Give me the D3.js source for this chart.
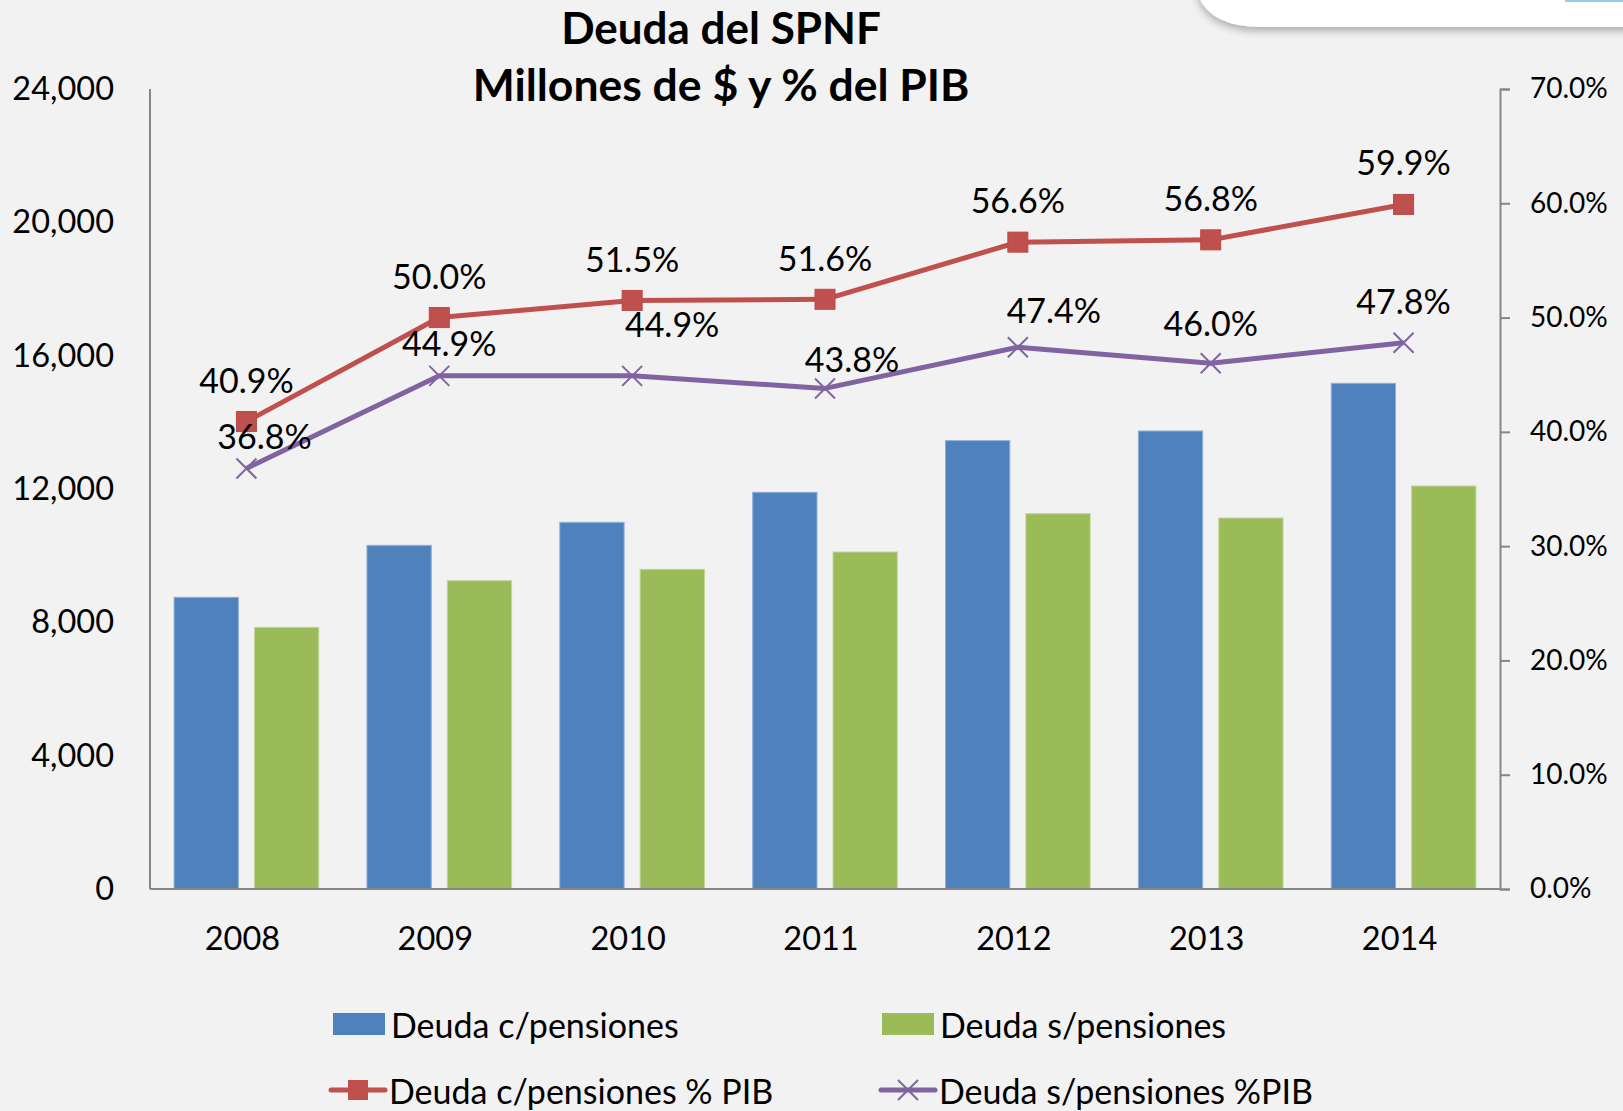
<!DOCTYPE html>
<html><head><meta charset="utf-8">
<script src="https://cdn.jsdelivr.net/npm/d3@7"></script>
<style>
html,body{margin:0;padding:0;background:#f2f2f2;}
svg{display:block;font-family:Lato,"Open Sans",sans-serif;}
</style></head>
<body>
<svg id="chart" width="1623" height="1111"></svg>
<script>
// ---- data ----
const years = ["2008","2009","2010","2011","2012","2013","2014"];
const deudaCon = [8750, 10310, 11000, 11900, 13450, 13740, 15170];
const deudaSin = [7850, 9250, 9590, 10110, 11260, 11130, 12090];
const pctCon = [0.409, 0.500, 0.515, 0.516, 0.566, 0.568, 0.599];
const pctSin = [0.368, 0.449, 0.449, 0.438, 0.474, 0.460, 0.478];
const leftTicks = [0, 4000, 8000, 12000, 16000, 20000, 24000];
const rightTicks = [0, 0.1, 0.2, 0.3, 0.4, 0.5, 0.6, 0.7];
const titleLines = ["Deuda del SPNF", "Millones de $ y % del PIB"];
const seriesNames = ["Deuda c/pensiones", "Deuda s/pensiones", "Deuda c/pensiones % PIB", "Deuda s/pensiones %PIB"];
// label offsets (manual placement as in the original)
const labelOffCon = [[0,-42],[0,-42],[0,-42],[0,-42],[0,-43],[0,-42],[0,-43]];
const labelOffSin = [[18,-33],[10,-33],[40,-52],[27,-30],[36,-38],[0,-41],[0,-42]];

const C = {blue:"#4f81bd", green:"#9bbb59", red:"#c0504d", purple:"#8064a2", axis:"#868686"};

const svg = d3.select("#chart");
const L = 150, R = 1500, T = 89, B = 889;

// background decoration top-right
const defs = svg.append("defs");
const f = defs.append("filter").attr("id","sh").attr("x","-20%").attr("y","-50%").attr("width","140%").attr("height","250%");
f.append("feGaussianBlur").attr("in","SourceAlpha").attr("stdDeviation",4);
f.append("feOffset").attr("dx",0).attr("dy",4).attr("result","b");
f.append("feComponentTransfer").append("feFuncA").attr("type","linear").attr("slope",0.3);
const fm = f.append("feMerge"); fm.append("feMergeNode"); fm.append("feMergeNode").attr("in","SourceGraphic");
svg.append("path")
  .attr("d","M1198,-10 L1198,-5 Q1210,27 1262,27 L1640,27 L1640,-10 Z")
  .attr("fill","#ffffff").attr("filter","url(#sh)");
svg.append("rect").attr("x",1565).attr("y",0).attr("width",58).attr("height",2).attr("fill","#9ccbea");

// scales
const x = d3.scaleBand().domain(years).range([L, R]).paddingInner(0).paddingOuter(0);
const x1 = d3.scaleBand().domain(["c","s"]).range([0, x.bandwidth()]).paddingInner(0.2).paddingOuter(0.3);
const yL = d3.scaleLinear().domain([0, 24000]).range([B, T]);
const yR = d3.scaleLinear().domain([0, 0.7]).range([B, T]);

// bars
const g = svg.append("g");
g.selectAll("rect.c").data(deudaCon).join("rect").attr("class","c")
  .attr("x",(d,i)=>x(years[i])+x1("c")).attr("y",d=>yL(d))
  .attr("width",x1.bandwidth()).attr("height",d=>B-yL(d))
  .attr("fill",C.blue).attr("stroke","#8eaedb").attr("stroke-width",1);
g.selectAll("rect.s").data(deudaSin).join("rect").attr("class","s")
  .attr("x",(d,i)=>x(years[i])+x1("s")).attr("y",d=>yL(d))
  .attr("width",x1.bandwidth()).attr("height",d=>B-yL(d))
  .attr("fill",C.green).attr("stroke","#c0d69a").attr("stroke-width",1);

// axes
const axL = svg.append("g").attr("transform",`translate(${L},0)`)
  .call(d3.axisLeft(yL).tickValues(leftTicks).tickFormat(d3.format(",")).tickSize(0).tickPadding(36));
const axR = svg.append("g").attr("transform",`translate(${R},0)`)
  .call(d3.axisRight(yR).tickValues(rightTicks).tickFormat(d3.format(".1%")).tickSize(10).tickPadding(20));
const axB = svg.append("g").attr("transform",`translate(0,${B})`)
  .call(d3.axisBottom(x).tickSize(0).tickPadding(38));
[axL,axR,axB].forEach(a=>{
  a.select(".domain").attr("stroke",C.axis).attr("stroke-width",2);
  a.selectAll(".tick line").attr("stroke",C.axis).attr("stroke-width",2);
  a.selectAll("text").attr("fill","#000").style("font-family","Lato");
});
axL.selectAll("text").style("font-size","32.5px");
axR.selectAll("text").style("font-size","28px");
axB.selectAll("text").style("font-size","32.5px").attr("dx",-4);
axL.select(".domain").attr("d",`M0,${T}V${B}`);
axB.select(".domain").attr("d",`M${L},0H${R}`);

// lines
const cx = i => x(years[i]) + x.bandwidth()/2;
const lineCon = d3.line().x((d,i)=>cx(i)).y(d=>yR(d));
svg.append("path").datum(pctCon).attr("d",lineCon).attr("fill","none")
  .attr("stroke",C.red).attr("stroke-width",5).attr("stroke-linejoin","round");
svg.append("path").datum(pctSin).attr("d",lineCon).attr("fill","none")
  .attr("stroke",C.purple).attr("stroke-width",5).attr("stroke-linejoin","round");
svg.selectAll("rect.mk").data(pctCon).join("rect").attr("class","mk")
  .attr("x",(d,i)=>cx(i)-10).attr("y",d=>yR(d)-10).attr("width",20).attr("height",20)
  .attr("fill",C.red).attr("stroke","#b94a47").attr("stroke-width",1);
svg.selectAll("path.xm").data(pctSin).join("path").attr("class","xm")
  .attr("d",(d,i)=>{const px=cx(i),py=yR(d),s=10;return `M${px-s},${py-s}L${px+s},${py+s}M${px-s},${py+s}L${px+s},${py-s}`;})
  .attr("stroke",C.purple).attr("stroke-width",2).attr("fill","none");

// data labels
const fmtP = d3.format(".1%");
svg.selectAll("text.lc").data(pctCon).join("text").attr("class","lc")
  .attr("x",(d,i)=>cx(i)+labelOffCon[i][0]).attr("y",(d,i)=>yR(d)+labelOffCon[i][1])
  .attr("text-anchor","middle").attr("dominant-baseline","central")
  .style("font-size","34px").text(d=>fmtP(d));
svg.selectAll("text.ls").data(pctSin).join("text").attr("class","ls")
  .attr("x",(d,i)=>cx(i)+labelOffSin[i][0]).attr("y",(d,i)=>yR(d)+labelOffSin[i][1])
  .attr("text-anchor","middle").attr("dominant-baseline","central")
  .style("font-size","34px").text(d=>fmtP(d));

// title
svg.append("text").attr("x",721).attr("y",44).attr("text-anchor","middle")
  .style("font-size","44px").style("font-weight","bold").text(titleLines[0]);
svg.append("text").attr("x",721).attr("y",101).attr("text-anchor","middle")
  .style("font-size","44.5px").style("font-weight","bold").text(titleLines[1]);

// legend
const lg = svg.append("g");
const items = [
  {x:333, y:1024, type:"bar", color:C.blue, name:seriesNames[0]},
  {x:882, y:1024, type:"bar", color:C.green, name:seriesNames[1]},
  {x:331, y:1090, type:"sq", color:C.red, name:seriesNames[2]},
  {x:881, y:1090, type:"x", color:C.purple, name:seriesNames[3]}
];
items.forEach(it=>{
  if(it.type==="bar"){
    lg.append("rect").attr("x",it.x).attr("y",it.y-11).attr("width",52).attr("height",22).attr("fill",it.color);
  } else {
    lg.append("line").attr("x1",it.x).attr("x2",it.x+54).attr("y1",it.y).attr("y2",it.y)
      .attr("stroke",it.color).attr("stroke-width",5).attr("stroke-linecap","round");
    const mx = it.x+27;
    if(it.type==="sq"){
      lg.append("rect").attr("x",mx-10).attr("y",it.y-10).attr("width",20).attr("height",20).attr("fill",it.color);
    } else {
      lg.append("path").attr("d",`M${mx-10},${it.y-10}L${mx+10},${it.y+10}M${mx-10},${it.y+10}L${mx+10},${it.y-10}`)
        .attr("stroke",it.color).attr("stroke-width",2);
    }
  }
  lg.append("text").attr("x",it.x+58).attr("y",it.y).attr("dominant-baseline","central")
    .style("font-size","34px").text(it.name);
});
</script>
</body></html>
